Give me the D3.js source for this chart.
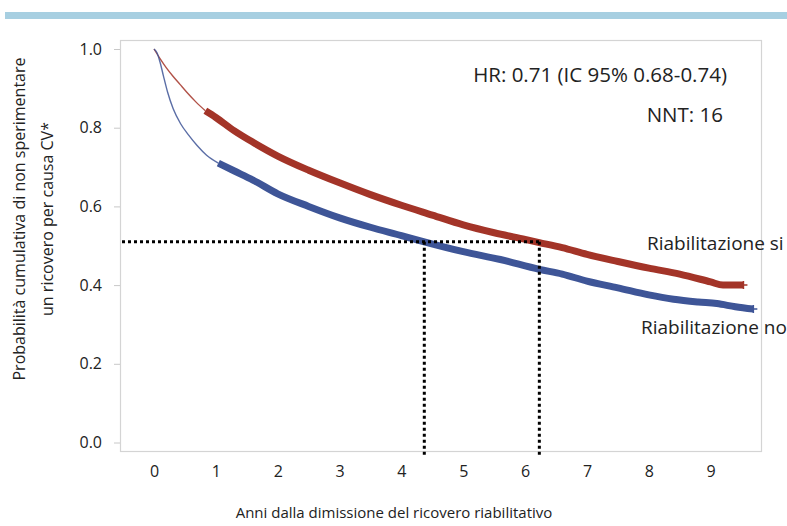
<!DOCTYPE html>
<html>
<head>
<meta charset="utf-8">
<script src="https://cdn.jsdelivr.net/npm/d3@7"></script>
<style>
  body { margin: 0; background: #fff; }
  text { font-family: "Open Sans", sans-serif; fill: #222; }
</style>
</head>
<body>
<script>
// Curva "Riabilitazione si" (rossa)
const siAnni = [0, 0.1, 0.2, 0.31, 0.42, 0.53, 0.68, 0.83, 1.0, 1.3, 1.6, 2.0, 2.5, 3.0, 3.5, 4.0, 4.5, 5.0, 5.5, 6.0, 6.23, 6.6, 7.0, 7.5, 8.0, 8.5, 9.0, 9.2, 9.53]
const siProb = [1.0, 0.975, 0.952, 0.93, 0.91, 0.89, 0.865, 0.843, 0.826, 0.792, 0.763, 0.728, 0.692, 0.66, 0.63, 0.603, 0.578, 0.553, 0.533, 0.516, 0.508, 0.495, 0.478, 0.46, 0.443, 0.428, 0.408, 0.4, 0.4]

// Curva "Riabilitazione no" (blu)
const noAnni = [0, 0.05, 0.1, 0.15, 0.22, 0.31, 0.43, 0.56, 0.7, 0.85, 1.04, 1.3, 1.6, 2.0, 2.5, 3.0, 3.5, 4.0, 4.37, 5.0, 5.6, 6.23, 6.6, 7.0, 7.5, 8.0, 8.4, 8.8, 9.1, 9.4, 9.69]
const noProb = [1.0, 0.99, 0.965, 0.933, 0.89, 0.848, 0.81, 0.781, 0.754, 0.73, 0.71, 0.69, 0.667, 0.632, 0.6, 0.571, 0.547, 0.526, 0.51, 0.485, 0.465, 0.44, 0.428, 0.41, 0.393, 0.375, 0.364, 0.357, 0.353, 0.345, 0.339]

// anno da cui iniziano i segni di censura (tratto spesso)
const siCensura = 0.83
const noCensura = 1.04

// linee tratteggiate: mediana (0.51) e tempi corrispondenti
const mediana = 0.51
const tempiMediana = [4.37, 6.23]

const xTicks = [0, 1, 2, 3, 4, 5, 6, 7, 8, 9]
const yTicks = [0, 0.2, 0.4, 0.6, 0.8, 1.0]

const width = 787
const height = 526

const svg = d3.select('body').append('svg').attr('width', width).attr('height', height)

// banda azzurra in alto
svg.append('rect').attr('x', 5).attr('y', 12).attr('width', width - 5).attr('height', 7).attr('fill', '#a7cfe1')

const x = d3.scaleLinear().domain([-0.55, 9.83]).range([120, 762])
const y = d3.scaleLinear().domain([0, 1]).range([442.5, 49])

// cornice
svg
  .append('rect')
  .attr('x', 120.5)
  .attr('y', 40.5)
  .attr('width', 641)
  .attr('height', 411)
  .attr('fill', 'none')
  .attr('stroke', '#d4d4d4')
  .attr('stroke-width', 1.2)

// asse y
const yAxis = svg
  .append('g')
  .attr('transform', 'translate(120,0)')
  .call(d3.axisLeft(y).tickValues(yTicks).tickFormat(d3.format('.1f')).tickSize(6).tickPadding(12))
yAxis.select('.domain').remove()
yAxis.selectAll('line').attr('stroke', '#c8c8c8')
yAxis.selectAll('text').style('font-size', '16px').attr('fill', '#222')

// asse x (solo etichette)
const xAxis = svg
  .append('g')
  .attr('transform', 'translate(0,462)')
  .call(d3.axisBottom(x).tickValues(xTicks).tickFormat(d3.format('d')).tickSize(0).tickPadding(4))
xAxis.select('.domain').remove()
xAxis.selectAll('text').style('font-size', '16px').attr('fill', '#222')

const line = d3
  .line()
  .x((d) => x(d[0]))
  .y((d) => y(d[1]))
  .curve(d3.curveMonotoneX)

function disegna(anni, prob, censura, colore) {
  const pts = anni.map((t, i) => [t, prob[i]])
  const sottile = pts.filter((d) => d[0] <= censura)
  const spesso = pts.filter((d) => d[0] >= censura)
  svg.append('path').datum(sottile).attr('d', line).attr('fill', 'none').attr('stroke', colore).attr('stroke-width', 1.4).attr('opacity', 0.85)
  svg.append('path').datum(spesso).attr('d', line).attr('fill', 'none').attr('stroke', colore).attr('stroke-width', 7).attr('stroke-linecap', 'butt')
  const last = pts[pts.length - 1]
  svg
    .append('path')
    .attr('d', `M${x(last[0]) - 4},${y(last[1])}h8M${x(last[0])},${y(last[1]) - 4}v8`)
    .attr('stroke', colore)
    .attr('stroke-width', 1.5)
}

disegna(siAnni, siProb, siCensura, '#a33428')
disegna(noAnni, noProb, noCensura, '#3e5597')

// linee tratteggiate
const dotted = { stroke: '#000', 'stroke-width': 3, 'stroke-dasharray': '3,3' }
const h = svg
  .append('line')
  .attr('x1', 122)
  .attr('x2', x(d3.max(tempiMediana)))
  .attr('y1', y(mediana))
  .attr('y2', y(mediana))
tempiMediana.forEach((t) => {
  const v = svg.append('line').attr('x1', x(t)).attr('x2', x(t)).attr('y1', y(mediana)).attr('y2', 456)
  Object.entries(dotted).forEach(([k, val]) => v.attr(k, val))
})
Object.entries(dotted).forEach(([k, val]) => h.attr(k, val))

// testi
svg.append('text').attr('x', 727).attr('y', 82).attr('text-anchor', 'end').style('font-size', '20.5px').text('HR: 0.71 (IC 95% 0.68-0.74)')
svg.append('text').attr('x', 723).attr('y', 122).attr('text-anchor', 'end').style('font-size', '20.5px').text('NNT: 16')
svg.append('text').attr('x', 647).attr('y', 250).style('font-size', '19px').text('Riabilitazione si')
svg.append('text').attr('x', 641).attr('y', 334).style('font-size', '19px').text('Riabilitazione no')

svg
  .append('text')
  .attr('transform', 'translate(25,219) rotate(-90)')
  .attr('text-anchor', 'middle')
  .style('font-size', '16px')
  .text('Probabilità cumulativa di non sperimentare')
svg
  .append('text')
  .attr('transform', 'translate(53,219) rotate(-90)')
  .attr('text-anchor', 'middle')
  .style('font-size', '16px')
  .text('un ricovero per causa CV*')

svg
  .append('text')
  .attr('x', 394)
  .attr('y', 518)
  .attr('text-anchor', 'middle')
  .style('font-size', '15px')
  .text('Anni dalla dimissione del ricovero riabilitativo')
</script>
</body>
</html>
